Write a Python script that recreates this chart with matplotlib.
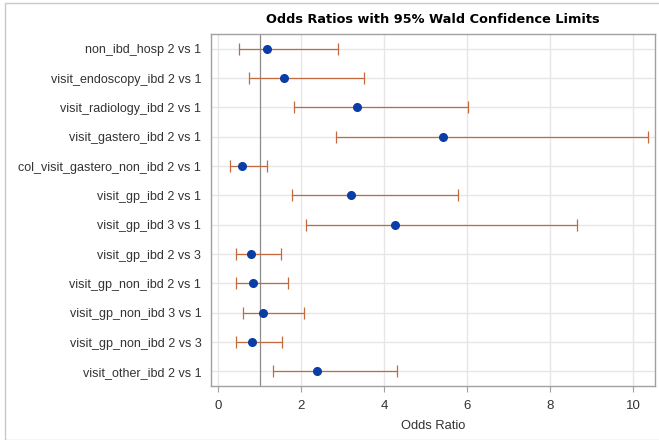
import matplotlib
matplotlib.use("Agg")
import matplotlib.pyplot as plt
from matplotlib.patches import Rectangle

labels = ["non_ibd_hosp 2 vs 1", "visit_endoscopy_ibd 2 vs 1", "visit_radiology_ibd 2 vs 1",
          "visit_gastero_ibd 2 vs 1", "col_visit_gastero_non_ibd 2 vs 1", "visit_gp_ibd 2 vs 1",
          "visit_gp_ibd 3 vs 1", "visit_gp_ibd 2 vs 3", "visit_gp_non_ibd 2 vs 1",
          "visit_gp_non_ibd 3 vs 1", "visit_gp_non_ibd 2 vs 3", "visit_other_ibd 2 vs 1"]
odds = [1.18, 1.59, 3.34, 5.41, 0.57, 3.21, 4.27, 0.80, 0.85, 1.09, 0.82, 2.39]
lower = [0.51, 0.75, 1.84, 2.84, 0.29, 1.79, 2.12, 0.43, 0.44, 0.59, 0.44, 1.33]
upper = [2.89, 3.51, 6.03, 10.35, 1.19, 5.78, 8.64, 1.52, 1.69, 2.06, 1.55, 4.32]
xticks = [0, 2, 4, 6, 8, 10]

W, H = 659, 440
fig = plt.figure(figsize=(W / 100, H / 100), dpi=100)
fig.patches.append(Rectangle((5 / W, 0), 1, 1 - 3 / H, transform=fig.transFigure,
                             fill=False, edgecolor="#C8C8C8", linewidth=1.0))
ax = fig.add_axes([211 / W, 1 - 386 / H, (655 - 211) / W, (386 - 34) / H])

n = len(labels)
ys = list(range(n))
err_lo = [o - l for o, l in zip(odds, lower)]
err_hi = [u - o for o, u in zip(odds, upper)]

ax.set_xlim(-0.17, 10.53)
ax.set_ylim(n - 0.5, -0.5)
ax.set_xticks(xticks)
ax.set_yticks(ys)
ax.set_yticklabels(labels, family="Liberation Sans")
for t in ax.get_xticklabels():
    t.set_family("Liberation Sans")
ax.grid(True, color="#E6E6E6", linewidth=1.0)
ax.set_axisbelow(True)
ax.axvline(1, color="#8C8C8C", linewidth=0.9, zorder=1)
ax.errorbar(odds, ys, xerr=[err_lo, err_hi], fmt="none", ecolor="#C4683F",
            elinewidth=0.9, capsize=4, capthick=0.9, zorder=2)
ax.plot(odds, ys, "o", color="#0A3DA6", markersize=5.5, zorder=3, linestyle="none")

for s in ax.spines.values():
    s.set_color("#A0A0A0")
    s.set_linewidth(1.0)
ax.tick_params(axis="y", length=0, pad=7, labelsize=9.0, labelcolor="#333333")
ax.tick_params(axis="x", length=4, pad=6, color="#A0A0A0", labelsize=9.5, labelcolor="#333333")
ax.set_xlabel("Odds Ratio", fontsize=9.3, color="#333333", family="Liberation Sans",
              labelpad=6)
ax.set_title("Odds Ratios with 95% Wald Confidence Limits", fontsize=9.3,
             fontweight="bold", pad=8)

fig.savefig("out.png", dpi=100)
